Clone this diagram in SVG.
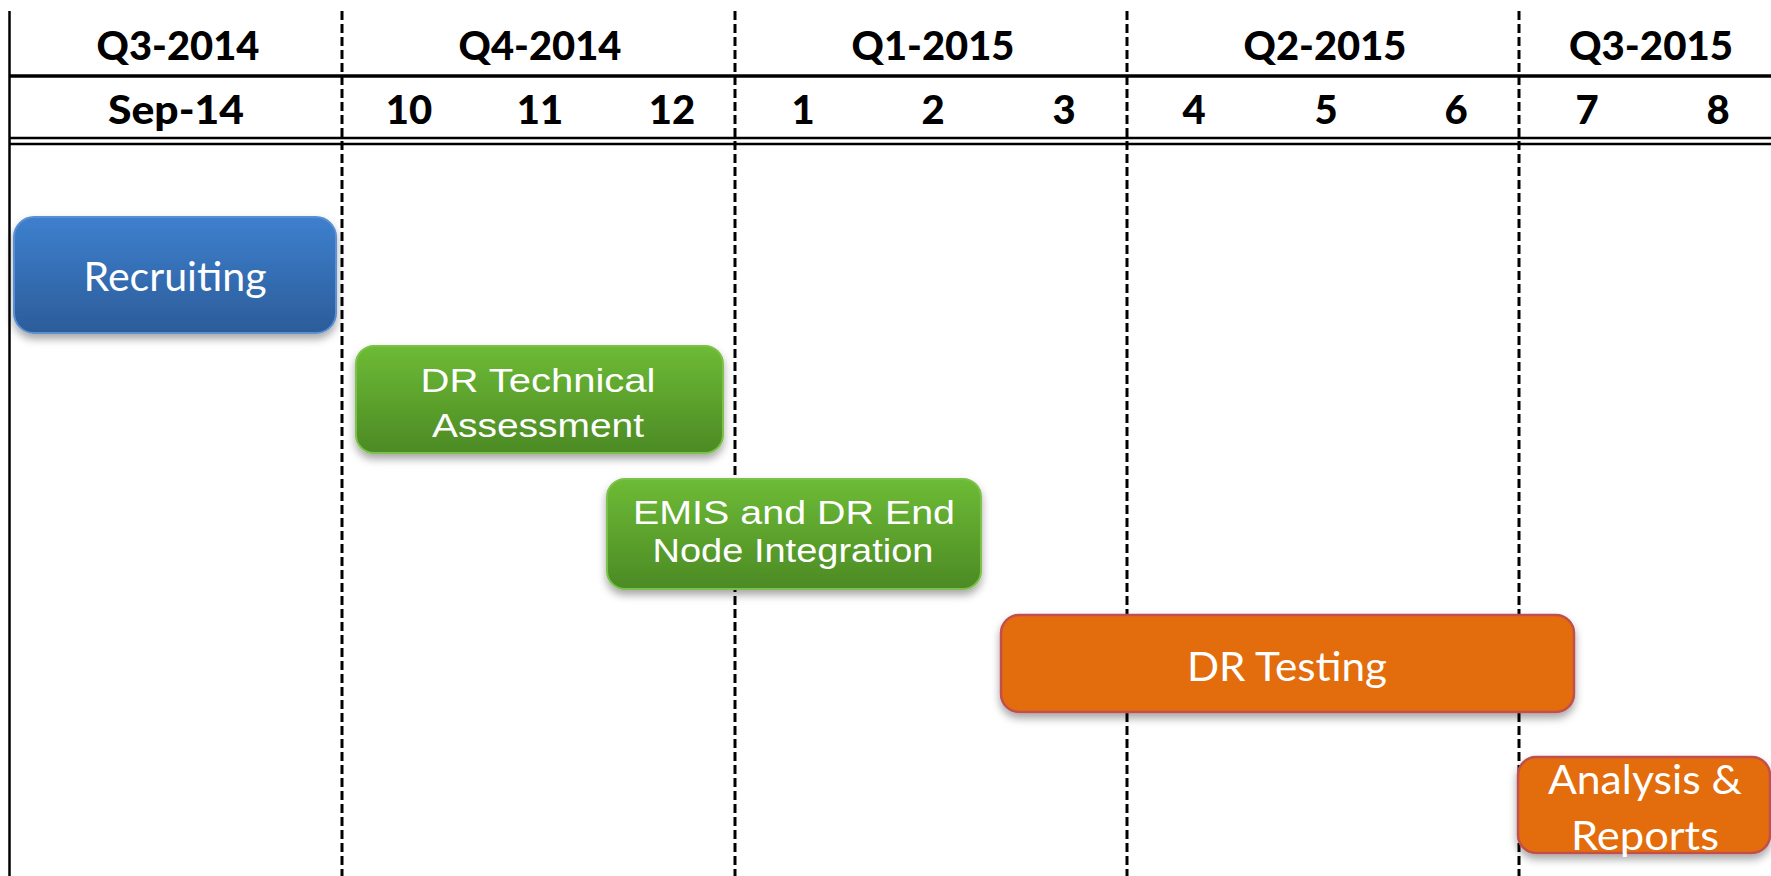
<svg xmlns="http://www.w3.org/2000/svg" width="1771" height="876" viewBox="0 0 1771 876">
  <style>
    .hdr { font-family: Lato, "Open Sans", "Liberation Sans", sans-serif; font-weight: 900; font-size: 40px; fill: #000; text-anchor: middle; }
    .rule { stroke: #000; fill: none; }
    .div { stroke: #000; stroke-width: 3; stroke-dasharray: 9 4; fill: none; }
    .lbl { font-family: Lato, "Open Sans", "Liberation Sans", sans-serif; font-size: 40px; fill: #fff; text-anchor: middle; }
    .lbl-a { font-family: "Liberation Sans", Arial, sans-serif; font-size: 33px; fill: #fff; text-anchor: middle; }
  </style>
  <defs>
    <linearGradient id="gBlue" x1="0" y1="0" x2="0" y2="1">
      <stop offset="0" stop-color="#3d80ce"/>
      <stop offset="1" stop-color="#2c5c99"/>
    </linearGradient>
    <linearGradient id="gGreen" x1="0" y1="0" x2="0" y2="1">
      <stop offset="0" stop-color="#6dbb35"/>
      <stop offset="1" stop-color="#4c8a25"/>
    </linearGradient>
    <filter id="shadow" x="-10%" y="-20%" width="120%" height="150%">
      <feDropShadow dx="0" dy="5" stdDeviation="4" flood-color="#000" flood-opacity="0.35"/>
    </filter>
  </defs>

  <rect width="1771" height="876" fill="#fff"/>

  <!-- grid: frame line, header rules and quarter dividers -->
  <g id="grid">
    <line class="rule" x1="9.5" y1="11" x2="9.5" y2="876" stroke-width="2.5"/>
    <line class="rule" x1="9" y1="76" x2="1771" y2="76" stroke-width="3.5"/>
    <line class="rule" x1="9" y1="138" x2="1771" y2="138" stroke-width="2.5"/>
    <line class="rule" x1="9" y1="144" x2="1771" y2="144" stroke-width="2.5"/>
    <line class="div" x1="342" y1="11" x2="342" y2="876"/>
    <line class="div" x1="735" y1="11" x2="735" y2="876"/>
    <line class="div" x1="1127" y1="11" x2="1127" y2="876"/>
    <line class="div" x1="1519" y1="11" x2="1519" y2="876"/>
  </g>

  <!-- quarter row -->
  <g id="quarters">
    <text class="hdr" x="178" y="60" textLength="163" lengthAdjust="spacingAndGlyphs">Q3-2014</text>
    <text class="hdr" x="540" y="60" textLength="163" lengthAdjust="spacingAndGlyphs">Q4-2014</text>
    <text class="hdr" x="933" y="60" textLength="163" lengthAdjust="spacingAndGlyphs">Q1-2015</text>
    <text class="hdr" x="1325" y="60" textLength="163" lengthAdjust="spacingAndGlyphs">Q2-2015</text>
    <text class="hdr" x="1651" y="60" textLength="164" lengthAdjust="spacingAndGlyphs">Q3-2015</text>
  </g>

  <!-- month row -->
  <g id="months">
    <text class="hdr" x="176" y="124" textLength="136" lengthAdjust="spacingAndGlyphs">Sep-14</text>
    <text class="hdr" x="409" y="124">10</text>
    <text class="hdr" x="540" y="124">11</text>
    <text class="hdr" x="672" y="124">12</text>
    <text class="hdr" x="803" y="124">1</text>
    <text class="hdr" x="933" y="124">2</text>
    <text class="hdr" x="1064" y="124">3</text>
    <text class="hdr" x="1194" y="124">4</text>
    <text class="hdr" x="1326" y="124">5</text>
    <text class="hdr" x="1456" y="124">6</text>
    <text class="hdr" x="1587" y="124">7</text>
    <text class="hdr" x="1718" y="124">8</text>
  </g>

  <!-- task bars -->
  <g id="recruiting">
    <rect x="14" y="217" width="322" height="116" rx="20" fill="url(#gBlue)" stroke="#5b8fd3" stroke-width="2" filter="url(#shadow)"/>
    <text class="lbl" x="175" y="291" font-size="39" textLength="183" lengthAdjust="spacingAndGlyphs">Recruiting</text>
  </g>

  <g id="dr-technical-assessment">
    <rect x="356" y="346" width="367" height="107" rx="18" fill="url(#gGreen)" stroke="#7cc24a" stroke-width="2" filter="url(#shadow)"/>
    <text class="lbl-a" x="538" y="392" textLength="235" lengthAdjust="spacingAndGlyphs">DR Technical</text>
    <text class="lbl-a" x="538" y="437" textLength="212" lengthAdjust="spacingAndGlyphs">Assessment</text>
  </g>

  <g id="emis-dr-integration">
    <rect x="607" y="479" width="374" height="110" rx="18" fill="url(#gGreen)" stroke="#7cc24a" stroke-width="2" filter="url(#shadow)"/>
    <text class="lbl-a" x="794" y="524" textLength="322" lengthAdjust="spacingAndGlyphs">EMIS and DR End</text>
    <text class="lbl-a" x="793" y="562" textLength="281" lengthAdjust="spacingAndGlyphs">Node Integration</text>
  </g>

  <g id="dr-testing">
    <rect x="1001" y="615" width="573" height="97" rx="18" fill="#e36c0a" stroke="#c0504d" stroke-width="2.5" filter="url(#shadow)"/>
    <text class="lbl" x="1287" y="681" font-size="42" textLength="200" lengthAdjust="spacingAndGlyphs">DR Testing</text>
  </g>

  <g id="analysis-reports">
    <rect x="1518" y="757" width="252" height="96" rx="18" fill="#e36c0a" stroke="#c0504d" stroke-width="2.5" filter="url(#shadow)"/>
    <text class="lbl" x="1645" y="794" font-size="42" textLength="194" lengthAdjust="spacingAndGlyphs">Analysis &amp;</text>
    <text class="lbl" x="1645" y="850" font-size="42" textLength="148" lengthAdjust="spacingAndGlyphs">Reports</text>
  </g>

  <!-- no connectors between bars -->
  <g id="connectors"/>
</svg>
